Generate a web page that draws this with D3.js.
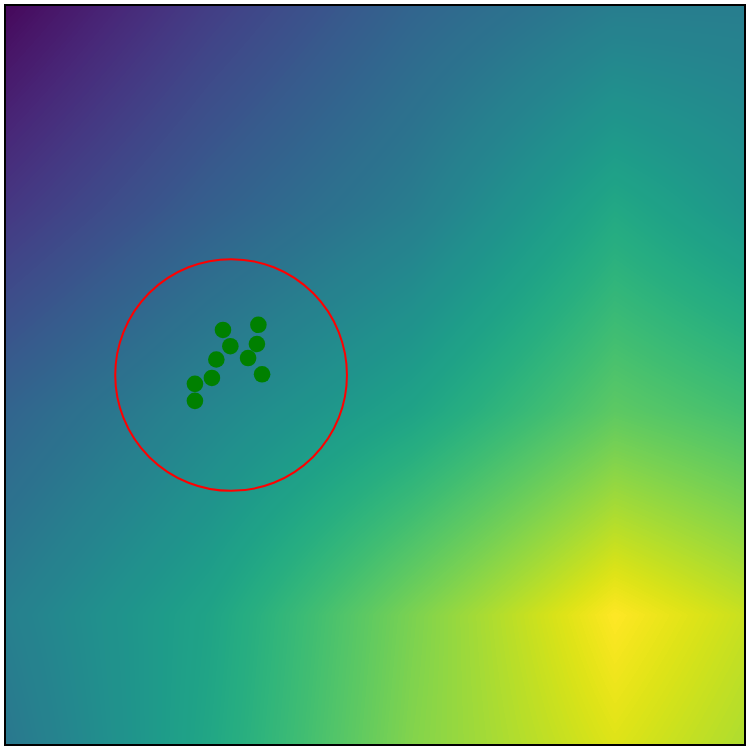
<!DOCTYPE html>
<html>
<head>
<meta charset="utf-8">
<script src="https://cdn.jsdelivr.net/npm/d3@7"></script>
<style>
  html, body { margin: 0; padding: 0; background: #fff; }
  svg { display: block; }
</style>
</head>
<body>
<div id="chart"></div>
<script>
// field grid (viridis level 0..1), rows top -> bottom, cols left -> right
const gridStops = [0, 27.5, 55, 82.5, 110];
const fieldValues = [
  [0.02, 0.18, 0.32, 0.42, 0.42],
  [0.16, 0.30, 0.42, 0.60, 0.48],
  [0.32, 0.46, 0.58, 0.75, 0.67],
  [0.43, 0.58, 0.80, 1.00, 0.87],
  [0.38, 0.60, 0.82, 0.92, 0.82]
];

// scatter points
const pointsX = [29.4, 34.2, 30.4, 34.0, 28.5, 32.8, 27.9, 34.7, 25.6, 25.6];
const pointsY = [43.9, 43.2, 46.1, 45.8, 47.9, 47.7, 50.4, 49.9, 51.2, 53.5];

// highlight circle
const ringCenter = [30.5, 50];
const ringRadius = 15.7;

const width = 750, height = 750;
const margin = 6;
const inner = width - margin * 2;

const x = d3.scaleLinear().domain([0, 100]).range([margin, width - margin]);
const y = d3.scaleLinear().domain([0, 100]).range([margin, height - margin]);
const color = d3.scaleSequential(d3.interpolateViridis).domain([0, 1]);

// data units -> fractional grid index
const gi = d3.scaleLinear().domain(gridStops).range(d3.range(gridStops.length)).clamp(true);

function fieldAt(u, v) {
  const fx = gi(u), fy = gi(v);
  const i0 = Math.min(Math.floor(fx), gridStops.length - 2);
  const j0 = Math.min(Math.floor(fy), gridStops.length - 2);
  const tx = fx - i0, ty = fy - j0;
  const top = d3.interpolateNumber(fieldValues[j0][i0], fieldValues[j0][i0 + 1])(tx);
  const bot = d3.interpolateNumber(fieldValues[j0 + 1][i0], fieldValues[j0 + 1][i0 + 1])(tx);
  return top + (bot - top) * ty;
}

// paint the field on an offscreen canvas
const canvas = document.createElement('canvas');
canvas.width = inner;
canvas.height = inner;
const ctx = canvas.getContext('2d');
const img = ctx.createImageData(inner, inner);
for (let py = 0; py < inner; py++) {
  const v = y.invert(py + margin + 0.5);
  for (let px = 0; px < inner; px++) {
    const u = x.invert(px + margin + 0.5);
    const c = d3.rgb(color(fieldAt(u, v)));
    const k = (py * inner + px) * 4;
    img.data[k] = c.r;
    img.data[k + 1] = c.g;
    img.data[k + 2] = c.b;
    img.data[k + 3] = 255;
  }
}
ctx.putImageData(img, 0, 0);

const svg = d3.select('#chart').append('svg')
  .attr('width', width)
  .attr('height', height);

svg.append('image')
  .attr('x', margin)
  .attr('y', margin)
  .attr('width', inner)
  .attr('height', inner)
  .attr('preserveAspectRatio', 'none')
  .attr('href', canvas.toDataURL());

svg.append('circle')
  .attr('cx', x(ringCenter[0]))
  .attr('cy', y(ringCenter[1]))
  .attr('r', x(ringRadius) - x(0))
  .attr('fill', 'none')
  .attr('stroke', 'red')
  .attr('stroke-width', 2);

svg.append('g')
  .selectAll('circle')
  .data(d3.range(pointsX.length))
  .join('circle')
  .attr('cx', i => x(pointsX[i]))
  .attr('cy', i => y(pointsY[i]))
  .attr('r', 8.3)
  .attr('fill', 'green');

// frame
svg.append('rect')
  .attr('x', margin - 1)
  .attr('y', margin - 1)
  .attr('width', inner + 2)
  .attr('height', inner + 2)
  .attr('fill', 'none')
  .attr('stroke', '#000')
  .attr('stroke-width', 2);
</script>
</body>
</html>
